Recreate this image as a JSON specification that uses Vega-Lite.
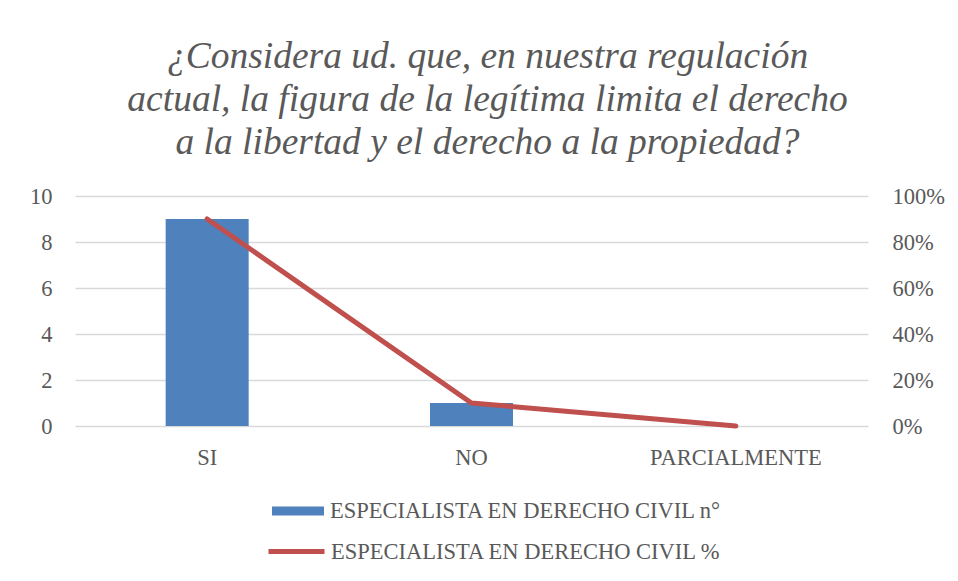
{
  "$schema": "https://vega.github.io/schema/vega-lite/v6.json",
  "width": 793,
  "height": 230,
  "autosize": "none",
  "padding": {"left": 75, "top": 196, "right": 90, "bottom": 155},
  "background": "white",
  "title": {
    "text": ["¿Considera ud. que, en nuestra regulación", "actual, la figura de la legítima limita el derecho", "a la libertad y el derecho a la propiedad?"],
    "font": "Liberation Serif",
    "fontStyle": "italic",
    "fontWeight": "normal",
    "fontSize": 37.5,
    "color": "#595959",
    "lineHeight": 43,
    "anchor": "middle",
    "dx": 16,
    "offset": 24
  },
  "data": {
    "values": [
      {"cat": "SI", "n": 9, "pct": 0.9},
      {"cat": "NO", "n": 1, "pct": 0.1},
      {"cat": "PARCIALMENTE", "n": 0, "pct": 0}
    ]
  },
  "encoding": {
    "x": {
      "field": "cat",
      "type": "nominal",
      "sort": null,
      "scale": {"paddingInner": 0.686, "paddingOuter": 0.343},
      "axis": {
        "title": null,
        "labelAngle": 0,
        "domain": false,
        "ticks": false,
        "labelPadding": 20,
        "labelFont": "Liberation Serif",
        "labelFontSize": 22.5,
        "labelColor": "#595959"
      }
    }
  },
  "layer": [
    {
      "mark": {"type": "bar", "color": "#4F81BD"},
      "encoding": {
        "y": {
          "field": "n",
          "type": "quantitative",
          "scale": {"domain": [0, 10]},
          "axis": {
            "title": null,
            "values": [0, 2, 4, 6, 8, 10],
            "domain": false,
            "ticks": false,
            "labelPadding": 23,
            "labelFont": "Liberation Serif",
            "labelFontSize": 22.5,
            "labelColor": "#595959",
            "gridColor": "#D9D9D9",
            "gridWidth": 1.5
          }
        },
        "fill": {
          "datum": "ESPECIALISTA EN DERECHO CIVIL n°",
          "type": "nominal",
          "scale": {"range": ["#4F81BD"]},
          "legend": {
            "title": null,
            "orient": "none",
            "legendX": 197,
            "legendY": 289,
            "symbolType": "M-1,-0.173H1V0.173H-1Z",
            "symbolSize": 2704,
            "symbolStrokeWidth": 0,
            "labelFont": "Liberation Serif",
            "labelFontSize": 22.5,
            "labelColor": "#595959",
            "labelLimit": 600,
            "labelOffset": 6
          }
        }
      }
    },
    {
      "mark": {"type": "line", "color": "#C0504D", "strokeWidth": 5, "strokeCap": "round"},
      "encoding": {
        "y": {
          "field": "pct",
          "type": "quantitative",
          "scale": {"domain": [0, 1]},
          "axis": {
            "title": null,
            "orient": "right",
            "format": ".0%",
            "values": [0, 0.2, 0.4, 0.6, 0.8, 1],
            "grid": false,
            "domain": false,
            "ticks": false,
            "labelAlign": "left",
            "labelPadding": 24,
            "labelFont": "Liberation Serif",
            "labelFontSize": 22.5,
            "labelColor": "#595959"
          }
        },
        "stroke": {
          "datum": "ESPECIALISTA EN DERECHO CIVIL %",
          "type": "nominal",
          "scale": {"range": ["#C0504D"]},
          "legend": {
            "title": null,
            "orient": "none",
            "legendX": 191,
            "legendY": 325,
            "symbolType": "stroke",
            "symbolSize": 3136,
            "symbolStrokeWidth": 5,
            "labelFont": "Liberation Serif",
            "labelFontSize": 22.5,
            "labelColor": "#595959",
            "labelLimit": 600,
            "labelOffset": 4
          }
        }
      }
    }
  ],
  "resolve": {"scale": {"y": "independent"}},
  "config": {
    "view": {"stroke": null}
  }
}
